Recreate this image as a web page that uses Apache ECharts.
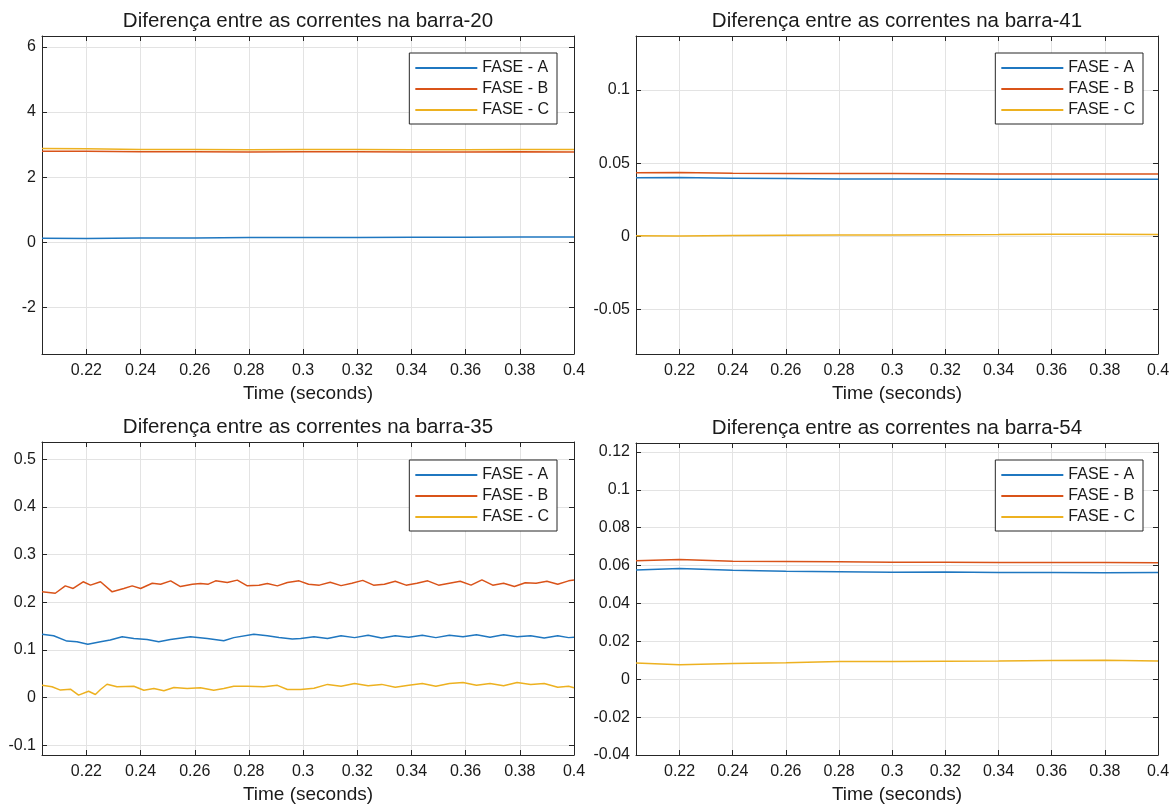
<!DOCTYPE html>
<html><head><meta charset="utf-8">
<script src="https://cdn.jsdelivr.net/npm/echarts@6/dist/echarts.min.js"></script>
<style>html,body{margin:0;padding:0;background:#fff}#c{width:1173px;height:805px}</style>
</head><body><div id="c"></div><script>
// ---------- data ----------
var seriesNames = ['FASE - A', 'FASE - B', 'FASE - C'];
var titles = [
  'Diferença entre as correntes na barra-20',
  'Diferença entre as correntes na barra-41',
  'Diferença entre as correntes na barra-35',
  'Diferença entre as correntes na barra-54'
];
var xTicks = [0.22, 0.24, 0.26, 0.28, 0.3, 0.32, 0.34, 0.36, 0.38, 0.4];
var yTicks20 = [-2, 0, 2, 4, 6];
var yTicks41 = [-0.05, 0, 0.05, 0.1];
var yTicks35 = [-0.1, 0, 0.1, 0.2, 0.3, 0.4, 0.5];
var yTicks54 = [-0.04, -0.02, 0, 0.02, 0.04, 0.06, 0.08, 0.1, 0.12];

// coarse time base for the nearly flat panels
var tFlat = [0.2036, 0.22, 0.24, 0.26, 0.28, 0.30, 0.32, 0.34, 0.36, 0.38, 0.40];
var a20 = [0.13, 0.12, 0.135, 0.14, 0.15, 0.15, 0.155, 0.16, 0.16, 0.165, 0.165];
var b20 = [2.80, 2.80, 2.78, 2.78, 2.77, 2.78, 2.78, 2.77, 2.77, 2.78, 2.77];
var c20 = [2.88, 2.87, 2.85, 2.85, 2.84, 2.85, 2.85, 2.84, 2.84, 2.85, 2.85];
var a41 = [0.0400, 0.0402, 0.0398, 0.0395, 0.0393, 0.0393, 0.0392, 0.0390, 0.0390, 0.0390, 0.0390];
var b41 = [0.0434, 0.0437, 0.0432, 0.0430, 0.0429, 0.0429, 0.0428, 0.0427, 0.0426, 0.0427, 0.0427];
var c41 = [0.0005, 0.0003, 0.0006, 0.0008, 0.0010, 0.0010, 0.0012, 0.0013, 0.0015, 0.0015, 0.0014];
var a54 = [0.0577, 0.0585, 0.0575, 0.0570, 0.0568, 0.0565, 0.0566, 0.0563, 0.0564, 0.0562, 0.0563];
var b54 = [0.0625, 0.0632, 0.0623, 0.0622, 0.0620, 0.0618, 0.0618, 0.0616, 0.0616, 0.0616, 0.0615];
var c54 = [0.0085, 0.0077, 0.0083, 0.0087, 0.0093, 0.0094, 0.0095, 0.0096, 0.0099, 0.0100, 0.0096];

// barra-35 (wavy), each series with its own sample times
var tA35 = [0.2036,0.2079,0.2128,0.2165,0.2205,0.2252,0.2288,0.2332,0.2375,0.2424,0.2467,0.2510,0.2584,0.2646,0.2707,0.2744,0.2818,0.2868,0.2911,0.2960,0.2991,
            0.304,0.309,0.314,0.319,0.324,0.329,0.334,0.339,0.344,0.349,0.354,0.359,0.364,0.369,0.374,0.379,0.384,0.389,0.394,0.398,0.4];
var a35 = [0.133,0.130,0.1187,0.1175,0.112,0.1175,0.121,0.128,0.124,0.122,0.1175,0.122,0.128,0.124,0.1195,0.126,0.133,0.130,0.1265,0.123,0.124,
           0.128,0.124,0.130,0.126,0.131,0.125,0.130,0.127,0.131,0.126,0.131,0.128,0.132,0.127,0.132,0.128,0.130,0.125,0.130,0.126,0.127];
var tB35 = [0.2036,0.2085,0.2122,0.2151,0.2188,0.2215,0.2252,0.2295,0.2338,0.2369,0.2400,0.2443,0.2474,0.2511,0.2547,0.2591,0.2621,0.2650,0.2677,0.2720,0.2757,0.2794,0.2837,0.2868,0.2905,0.2942,0.2985,
            0.302,0.306,0.310,0.314,0.318,0.322,0.326,0.330,0.334,0.338,0.342,0.346,0.350,0.354,0.358,0.362,0.366,0.370,0.374,0.378,0.382,0.386,0.390,0.394,0.398,0.4];
var b35 = [0.222,0.219,0.2345,0.229,0.243,0.236,0.243,0.222,0.229,0.2345,0.229,0.240,0.238,0.245,0.233,0.238,0.2395,0.238,0.245,0.2415,0.2465,0.2345,0.236,0.2395,0.2345,0.2415,0.245,
           0.238,0.236,0.242,0.235,0.240,0.246,0.236,0.238,0.244,0.236,0.240,0.245,0.236,0.240,0.244,0.236,0.247,0.236,0.240,0.233,0.241,0.240,0.244,0.238,0.245,0.247];
var tC35 = [0.2036,0.2073,0.2104,0.2141,0.2171,0.2208,0.2233,0.2252,0.2276,0.2313,0.2375,0.2412,0.2449,0.2486,0.2523,0.2572,0.2621,0.2670,0.2707,0.2744,0.2794,0.2855,0.2905,0.2942,0.2991,
            0.304,0.309,0.314,0.319,0.324,0.329,0.334,0.339,0.344,0.349,0.354,0.359,0.364,0.369,0.374,0.379,0.384,0.389,0.394,0.398,0.4];
var c35 = [0.026,0.023,0.016,0.018,0.0054,0.0137,0.0069,0.0173,0.0283,0.0229,0.0241,0.0158,0.0193,0.0146,0.0214,0.0193,0.0208,0.0158,0.0193,0.0241,0.0241,0.0229,0.026,0.0173,0.0173,
           0.020,0.028,0.024,0.030,0.025,0.028,0.022,0.026,0.030,0.024,0.030,0.032,0.026,0.030,0.025,0.032,0.028,0.030,0.022,0.024,0.021];

// ---------- layout / style ----------
var FONT = "'Liberation Sans', Arial, Helvetica, sans-serif";
var colors = ['#1f77c0', '#d95319', '#edb120'];
var AX = '#262626';
var GRIDC = '#e3e3e3';
var panels = [
  {grid:{left:42, top:36, width:532, height:318}, yMin:-3.42, yMax:6.33, yTicks:yTicks20,
   t:[tFlat,tFlat,tFlat], v:[a20,b20,c20], legend:{right:616, top:53}},
  {grid:{left:636, top:36, width:522, height:318}, yMin:-0.0802, yMax:0.1368, yTicks:yTicks41,
   t:[tFlat,tFlat,tFlat], v:[a41,b41,c41], legend:{right:30, top:53}},
  {grid:{left:42, top:442, width:532, height:315}, yMin:-0.12, yMax:0.536, yTicks:yTicks35,
   t:[tA35,tB35,tC35], v:[a35,b35,c35], legend:{right:616, top:460}},
  {grid:{left:636, top:443, width:522, height:314}, yMin:-0.04, yMax:0.1247, yTicks:yTicks54,
   t:[tFlat,tFlat,tFlat], v:[a54,b54,c54], legend:{right:30, top:460}}
];
var X_MIN = 0.2036, X_MAX = 0.4;
function fmt(v){ return String(+v.toFixed(4)); }

var option = {
  animation:false, backgroundColor:'#fff',
  textStyle:{fontFamily:FONT},
  title:[], grid:[], xAxis:[], yAxis:[], legend:[], series:[]
};
panels.forEach(function(p, i){
  var g = p.grid;
  option.grid.push({left:g.left, top:g.top, width:g.width, height:g.height, containLabel:false});
  option.title.push({text:titles[i], left:g.left + g.width/2, top:g.top - 25, textAlign:'center', padding:0,
    textStyle:{fontFamily:FONT, fontSize:20.5, fontWeight:'normal', color:'#1a1a1a'}});
  var tickCommon = {show:true, inside:true, length:5, lineStyle:{color:AX, width:1}};
  option.xAxis.push({
    gridIndex:i, type:'value', min:X_MIN, max:X_MAX, position:'bottom',
    axisLine:{show:true, onZero:false, lineStyle:{color:AX, width:1}},
    axisTick:Object.assign({customValues:xTicks}, tickCommon),
    axisLabel:{customValues:xTicks, formatter:fmt, fontFamily:FONT, fontSize:16, color:'#1a1a1a', margin:9,
      showMinLabel:true, showMaxLabel:true, hideOverlap:false},
    splitLine:{show:true, lineStyle:{color:GRIDC, width:1}},
    name:'Time (seconds)', nameLocation:'middle', nameGap:30,
    nameTextStyle:{fontFamily:FONT, fontSize:19, color:'#1a1a1a'}
  });
  option.xAxis.push({
    gridIndex:i, type:'value', min:X_MIN, max:X_MAX, position:'top',
    axisLine:{show:true, onZero:false, lineStyle:{color:AX, width:1}},
    axisTick:Object.assign({customValues:xTicks}, tickCommon),
    axisLabel:{show:false}, splitLine:{show:false}
  });
  option.yAxis.push({
    gridIndex:i, type:'value', min:p.yMin, max:p.yMax, position:'left',
    axisLine:{show:true, onZero:false, lineStyle:{color:AX, width:1}},
    axisTick:Object.assign({customValues:p.yTicks}, tickCommon),
    axisLabel:{customValues:p.yTicks, formatter:fmt, fontFamily:FONT, fontSize:16, color:'#1a1a1a', margin:6,
      showMinLabel:true, showMaxLabel:true, hideOverlap:false},
    splitLine:{show:true, lineStyle:{color:GRIDC, width:1}}
  });
  option.yAxis.push({
    gridIndex:i, type:'value', min:p.yMin, max:p.yMax, position:'right',
    axisLine:{show:true, onZero:false, lineStyle:{color:AX, width:1}},
    axisTick:Object.assign({customValues:p.yTicks}, tickCommon),
    axisLabel:{show:false}, splitLine:{show:false}
  });
  option.legend.push({
    data:seriesNames, orient:'vertical', right:p.legend.right, top:p.legend.top,
    align:'left', itemWidth:62, itemHeight:14, itemGap:5,
    itemStyle:{opacity:0},
    padding:[7,8,6,5], borderColor:AX, borderWidth:1, backgroundColor:'#fff',
    textStyle:{fontFamily:FONT, fontSize:16, color:'#1a1a1a'}, selectedMode:false
  });
  for (var k = 0; k < 3; k++) {
    var tt = p.t[k], vv = p.v[k], d = [];
    for (var j = 0; j < tt.length; j++) d.push([tt[j], vv[j]]);
    option.series.push({
      name:seriesNames[k], type:'line', xAxisIndex:2*i, yAxisIndex:2*i,
      data:d, showSymbol:false, symbol:'none', smooth:false,
      lineStyle:{color:colors[k], width:1.5}, itemStyle:{color:colors[k]}, z:3
    });
  }
});
var chart = echarts.init(document.getElementById('c'), null, {renderer:'canvas'});
chart.setOption(option);
</script></body></html>
